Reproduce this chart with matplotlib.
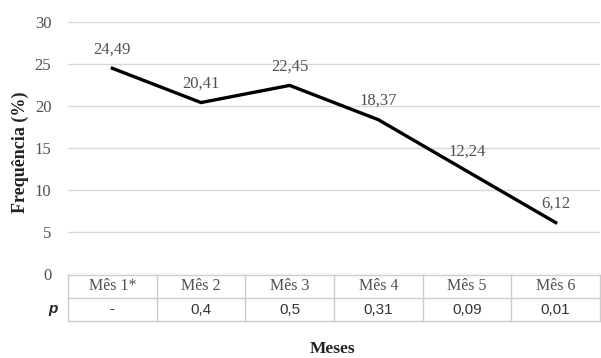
import matplotlib
matplotlib.use('Agg')
import matplotlib.pyplot as plt
from matplotlib.lines import Line2D

meses = ['Mês 1*', 'Mês 2', 'Mês 3', 'Mês 4', 'Mês 5', 'Mês 6']
frequencia = [24.49, 20.41, 22.45, 18.37, 12.24, 6.12]
valores_p = ['-', '0,4', '0,5', '0,31', '0,09', '0,01']
yticks = [0, 5, 10, 15, 20, 25, 30]

W, H = 601, 358
fig = plt.figure(figsize=(W / 100, H / 100), dpi=100)

# pixel positions of the plot area
x0, x1 = 68, 600
y_top, y_bot = 22, 274
ax = fig.add_axes([x0 / W, 1 - y_bot / H, (x1 - x0) / W, (y_bot - y_top) / H])

serif = 'Liberation Serif'
sans = 'Liberation Sans'
grey = '#505050'

n = len(meses)
xs = list(range(n))
ax.plot(xs, frequencia, color='black', lw=2.4, solid_joinstyle='miter')
for x, v in zip(xs, frequencia):
    ax.annotate(('%.2f' % v).replace('.', ','), (x, v), xytext=(0, 8),
                textcoords='offset points', ha='center', va='bottom',
                fontsize=12, family=serif, color=grey)

ax.set_xlim(-0.5, n - 0.5)
ax.set_ylim(0, 30)
ax.set_yticks(yticks)
ax.set_yticklabels([str(t) for t in yticks], family=serif, fontsize=12, color=grey)
ax.tick_params(axis='y', length=0, pad=12)
ax.set_xticks([])
ax.grid(axis='y', color='#d9d9d9', lw=1)
ax.set_axisbelow(True)
for s in ax.spines.values():
    s.set_visible(False)

# table under the plot
tx0, tx1 = 68, 600
ty0, ty1, ty2 = 275, 298, 321
cw = (tx1 - tx0) / n
tc = '#cccccc'

def fx(px):
    return px / W

def fy(py):
    return 1 - py / H

for py in (ty0, ty1, ty2):
    fig.add_artist(Line2D([fx(tx0), fx(tx1)], [fy(py), fy(py)], color=tc, lw=1))
for i in range(n + 1):
    px = tx0 + i * cw
    fig.add_artist(Line2D([fx(px), fx(px)], [fy(ty0), fy(ty2)], color=tc, lw=1))

for i, (m, p) in enumerate(zip(meses, valores_p)):
    cx = tx0 + (i + 0.5) * cw
    fig.text(fx(cx), fy((ty0 + ty1) / 2), m, ha='center', va='center',
             family=serif, fontsize=11.5, color=grey)
    fig.text(fx(cx), fy((ty1 + ty2) / 2), p, ha='center', va='center',
             family=sans, fontsize=11, color='#333333')

fig.text(fx(53), fy((ty1 + ty2) / 2), 'p', ha='center', va='center',
         family=sans, fontsize=11, fontweight='bold', fontstyle='italic', color='#222222')

fig.text(fx(20), fy(152), 'Frequência (%)', rotation=90, ha='center', va='center',
         family=serif, fontsize=13, fontweight='bold', color='#222222')
fig.text(fx(333), fy(349), 'Meses', ha='center', va='center',
         family=serif, fontsize=12.5, fontweight='bold', color='#222222')

fig.savefig('out.png', dpi=100)
